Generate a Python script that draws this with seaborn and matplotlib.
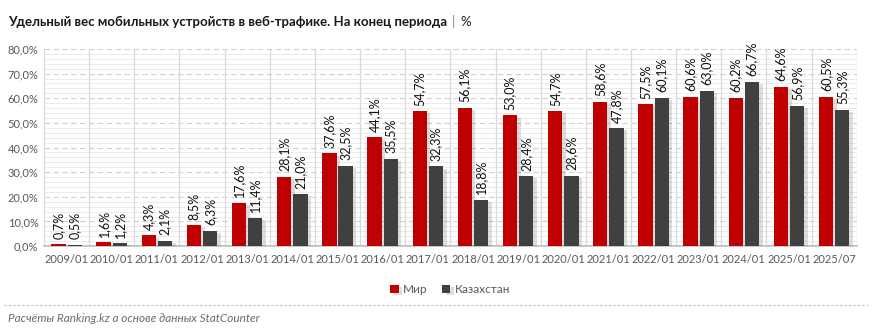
import matplotlib
matplotlib.use("Agg")
import matplotlib.pyplot as plt
import matplotlib.patheffects as pe
from matplotlib.ticker import MultipleLocator, FuncFormatter
import seaborn as sns
import pandas as pd

periods = ["2009/01", "2010/01", "2011/01", "2012/01", "2013/01", "2014/01", "2015/01",
           "2016/01", "2017/01", "2018/01", "2019/01", "2020/01", "2021/01", "2022/01",
           "2023/01", "2024/01", "2025/01", "2025/07"]
world = [0.7, 1.6, 4.3, 8.5, 17.6, 28.1, 37.6, 44.1, 54.7, 56.1, 53.0, 54.7, 58.6, 57.5,
         60.6, 60.2, 64.6, 60.5]
kz = [0.5, 1.2, 2.1, 6.3, 11.4, 21.0, 32.5, 35.5, 32.3, 18.8, 28.4, 28.6, 47.8, 60.1,
      63.0, 66.7, 56.9, 55.3]
series_names = ["Мир", "Казахстан"]
colors = ["#C00000", "#404040"]

df = pd.DataFrame({
    "period": periods * 2,
    "value": world + kz,
    "series": [series_names[0]] * len(periods) + [series_names[1]] * len(periods),
})

sns.set_theme(style="white")
plt.rcParams["font.family"] = ["Lato", "DejaVu Sans"]

fig = plt.figure(figsize=(8.72, 3.33), dpi=100)
ax = fig.add_axes([0.0505, 0.261, 0.932, 0.592])

sns.barplot(data=df, x="period", y="value", hue="series", palette=colors, saturation=1,
            width=0.72, gap=0.12, ax=ax, legend=True, zorder=3, linewidth=0)

for p in ax.patches:
    p.set_path_effects([pe.SimplePatchShadow(offset=(2.5, -1.5), shadow_rgbFace="#000000", alpha=0.13),
                        pe.Normal()])

ax.set_ylim(0, 80)
ax.set_xlim(-0.5, len(periods) - 0.5)
ax.yaxis.set_major_locator(MultipleLocator(10))
ax.yaxis.set_minor_locator(MultipleLocator(2))
ax.yaxis.set_major_formatter(FuncFormatter(lambda v, _: f"{v:.1f}%".replace(".", ",")))
ax.grid(axis="y", which="minor", color="#EBEBEB", linewidth=0.7, linestyle="-", zorder=0)
ax.grid(axis="y", which="major", color="#D0D0D0", linewidth=0.8, linestyle=(0, (5, 3)), zorder=1)
ax.set_axisbelow(True)
for i in range(len(periods) + 1):
    ax.axvline(i - 0.5, color="#D9D9D9", linewidth=0.9, zorder=1)

for s in ["top", "right", "left"]:
    ax.spines[s].set_visible(False)
ax.spines["bottom"].set_color("#BFBFBF")
ax.tick_params(axis="both", which="both", length=0, labelsize=8, colors="#595959", pad=4)
ax.tick_params(axis="x", pad=6)
ax.set_xlabel("")
ax.set_ylabel("")

# value labels
for container in ax.containers:
    for bar in container:
        h = bar.get_height()
        ax.annotate(f"{h:.1f}%".replace(".", ","), (bar.get_x() + bar.get_width() / 2, h),
                    xytext=(0, 4), textcoords="offset points", rotation=90,
                    ha="center", va="bottom", fontsize=9, color="#111111", zorder=5)

leg = ax.legend(loc="upper center", bbox_to_anchor=(0.5, -0.14), ncol=2, frameon=False,
                fontsize=8.5, handlelength=0.7, handleheight=0.7, handletextpad=0.4,
                columnspacing=1.2)
for t in leg.get_texts():
    t.set_color("#595959")

t1 = fig.text(0.009, 0.935, "Удельный вес мобильных устройств в веб-трафике. На конец периода",
              fontsize=9.5, fontweight="bold", color="#1a1a1a", ha="left", va="center")
fig.canvas.draw()
bb = t1.get_window_extent()
x_end = bb.x1 / fig.bbox.width
t2 = fig.text(x_end + 0.006, 0.935, "|", fontsize=9.5, color="#808080", ha="left", va="center")
fig.canvas.draw()
x2 = t2.get_window_extent().x1 / fig.bbox.width
fig.text(x2 + 0.005, 0.935, "%", fontsize=9.5, color="#1a1a1a", ha="left", va="center")

fig.add_artist(plt.Line2D([0.005, 0.995], [0.085, 0.085], transform=fig.transFigure,
                          color="#BFBFBF", linewidth=0.8, linestyle=(0, (2, 2))))
fig.text(0.009, 0.045, "Расчёты Ranking.kz а основе данных StatCounter", fontsize=8.5,
         style="italic", color="#6b6b6b", ha="left", va="center")

fig.savefig("out.png", dpi=100)
